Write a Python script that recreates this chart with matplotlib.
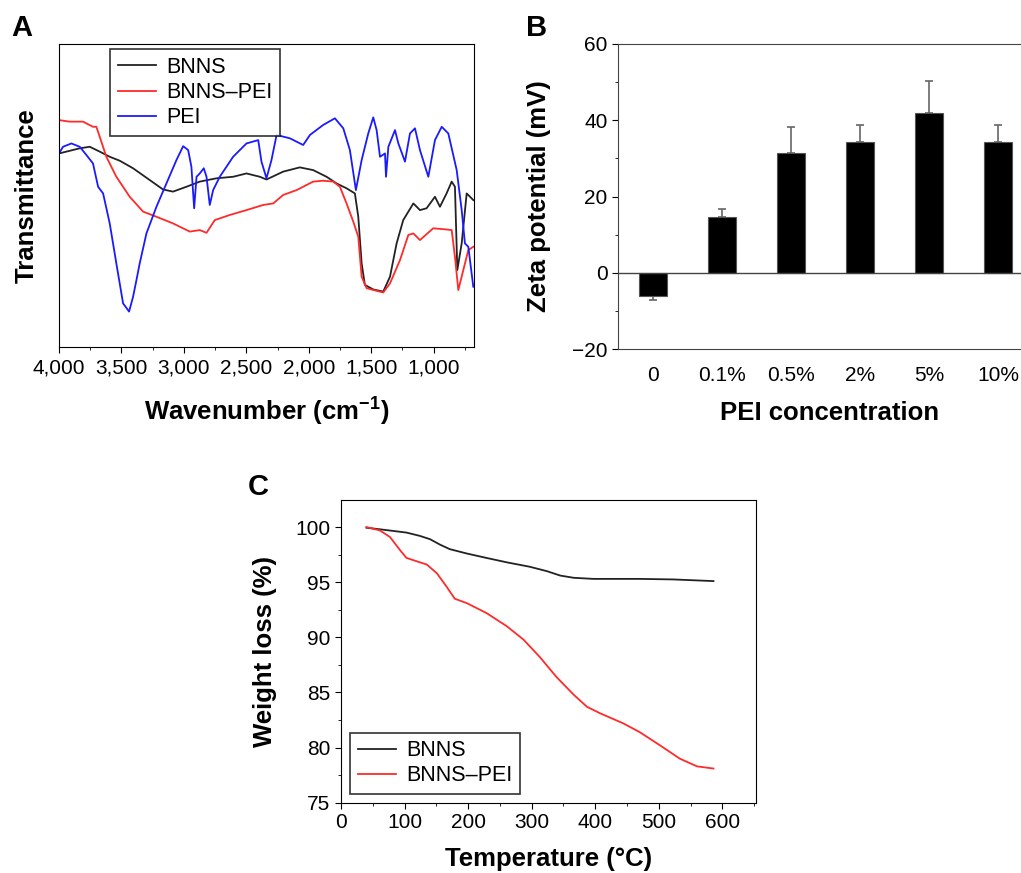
import numpy as np
import matplotlib
matplotlib.use("Agg")
import matplotlib.pyplot as plt
from matplotlib.ticker import MultipleLocator, FuncFormatter

plt.rcParams["font.family"] = ["Liberation Sans", "DejaVu Sans"]
plt.rcParams["mathtext.fontset"] = "custom"
plt.rcParams["mathtext.rm"] = "Liberation Sans"
plt.rcParams["mathtext.bf"] = "Liberation Sans:bold"

# ===== A: FTIR spectra =====
bnns_wn = [4000, 3941, 3834, 3754, 3674, 3594, 3514, 3407, 3273, 3167, 3087, 2980, 2873, 2739,
           2606, 2499, 2392, 2339, 2205, 2072, 1965, 1858, 1778, 1698, 1631, 1604, 1577, 1551,
           1484, 1404, 1350, 1297, 1244, 1163, 1110, 1057, 990, 950, 897, 856, 830, 811, 776,
           736, 709, 683]
bnns_t = [63.9, 64.5, 65.6, 66.1, 64.5, 62.8, 61.5, 59.0, 55.1, 52.0, 51.3, 52.9, 54.6, 55.7,
          56.2, 57.3, 56.2, 55.3, 57.9, 59.3, 58.4, 56.2, 54.0, 52.4, 50.7, 43.0, 27.6, 20.5,
          19.0, 18.3, 23.2, 34.2, 41.9, 47.4, 45.2, 45.8, 49.6, 46.3, 50.7, 54.6, 52.9, 25.4, 34.2,
          50.7, 49.6, 48.5]

pei_bnns_wn = [4000, 3915, 3808, 3728, 3701, 3674, 3621, 3541, 3434, 3327, 3220, 3087, 2953, 2873,
               2819, 2753, 2632, 2499, 2365, 2285, 2205, 2098, 1965, 1885, 1804, 1751, 1698, 1644,
               1604, 1577, 1537, 1404, 1350, 1270, 1203, 1163, 1110, 1004, 897, 856, 830, 803, 763,
               723, 683]
pei_bnns_t = [74.9, 74.4, 74.4, 72.7, 72.7, 69.4, 62.8, 56.2, 49.6, 44.7, 43.0, 40.8, 38.1, 38.6,
              37.7, 41.9, 43.6, 45.2, 46.9, 47.4, 50.2, 51.8, 54.6, 54.9, 54.6, 52.9, 47.4, 41.4,
              36.4, 23.2, 19.4, 18.0, 21.0, 28.7, 37.0, 37.5, 35.3, 39.2, 38.8, 38.6, 29.8, 18.8, 25.4,
              32.0, 33.1]

pei_wn = [4000, 3968, 3901, 3834, 3781, 3728, 3687, 3647, 3594, 3541, 3487, 3439, 3407, 3380,
          3354, 3300, 3220, 3140, 3060, 3006, 2966, 2940, 2918, 2899, 2873, 2841, 2819, 2793,
          2766, 2713, 2606, 2499, 2405, 2379, 2339, 2299, 2258, 2152, 2045, 1991, 1885, 1791,
          1724, 1671, 1623, 1577, 1524, 1484, 1457, 1430, 1390, 1382, 1363, 1310, 1283, 1230,
          1190, 1150, 1110, 1043, 990, 936, 883, 816, 776, 750, 723, 683]
pei_t = [63.9, 66.1, 67.2, 66.1, 63.4, 60.6, 52.9, 50.7, 40.8, 27.6, 14.4, 11.7, 16.6, 22.1,
         27.6, 37.5, 46.3, 54.0, 61.7, 66.3, 65.0, 59.5, 45.8, 56.2, 57.3, 59.0, 56.2, 46.9,
         51.8, 56.2, 62.8, 67.2, 68.3, 61.2, 55.7, 61.7, 70.0, 68.9, 66.7, 70.0, 73.3, 75.5,
         72.2, 65.0, 51.8, 61.7, 70.5, 75.8, 71.6, 62.8, 63.9, 56.2, 66.1, 71.6, 67.2, 61.2,
         70.5, 72.2, 65.0, 56.2, 68.3, 72.7, 70.5, 58.4, 45.2, 34.2, 33.1, 19.9]

# ===== B: zeta potential =====
pei_conc = ["0", "0.1%", "0.5%", "2%", "5%", "10%"]
zeta = [-6.0, 14.5, 31.5, 34.4, 41.8, 34.2]
zeta_err = [1.2, 2.2, 6.8, 4.3, 8.4, 4.5]

# ===== C: TGA =====
tga_bnns_temp = [40, 61, 103, 124, 140, 156, 171, 198, 229, 261, 297, 324, 345, 366, 397, 470, 523, 586]
tga_bnns_w = [99.94, 99.8, 99.5, 99.2, 98.9, 98.4, 98.0, 97.6, 97.2, 96.8, 96.4, 96.0, 95.6, 95.4,
              95.3, 95.3, 95.25, 95.1]
tga_pei_temp = [40, 61, 77, 93, 103, 119, 135, 151, 166, 179, 198, 229, 261, 287, 313, 339, 366,
                387, 408, 444, 470, 502, 533, 560, 586]
tga_pei_w = [100.0, 99.7, 99.1, 97.9, 97.2, 96.9, 96.6, 95.8, 94.6, 93.5, 93.1, 92.2, 91.0, 89.8,
             88.2, 86.4, 84.8, 83.7, 83.1, 82.2, 81.4, 80.2, 79.0, 78.3, 78.1]

BLACK = "#222222"
RED = "#ff2a2a"
BLUE = "#1a1aff"
TICK_FS = 15
LABEL_FS = 18.5
LEG_FS = 15.5

fig = plt.figure(figsize=(10.21, 8.73), dpi=100)


def framed_legend(ax, anchor, loc):
    leg = ax.legend(loc=loc, bbox_to_anchor=anchor, fontsize=LEG_FS, frameon=True,
                    fancybox=False, edgecolor="black", handlelength=1.8, borderpad=0.35,
                    labelspacing=0.2, handletextpad=0.45, borderaxespad=0)
    leg.get_frame().set_linewidth(1.2)
    return leg


# ----- A -----
axA = fig.add_axes([0.0578, 0.6025, 0.4065, 0.347])
axA.plot(bnns_wn, bnns_t, color=BLACK, lw=1.3, label="BNNS")
axA.plot(pei_bnns_wn, pei_bnns_t, color=RED, lw=1.3, label="BNNS–PEI")
axA.plot(pei_wn, pei_t, color=BLUE, lw=1.3, label="PEI")
axA.set_xlim(4000, 677)
axA.set_ylim(0, 100)
axA.set_yticks([])
axA.xaxis.set_major_locator(MultipleLocator(500))
axA.xaxis.set_minor_locator(MultipleLocator(250))
axA.xaxis.set_major_formatter(FuncFormatter(lambda v, p: f"{int(v):,}"))
axA.tick_params(axis="x", which="major", direction="out", length=4, pad=4, labelsize=TICK_FS)
axA.tick_params(axis="x", which="minor", direction="out", length=2.5)
axA.set_xlabel(r"Wavenumber (cm$^{\mathbf{-1}}$)", fontsize=LABEL_FS, fontweight="bold")
axA.xaxis.set_label_coords(0.5, -0.155)
axA.set_ylabel("Transmittance", fontsize=LABEL_FS, fontweight="bold")
axA.yaxis.set_label_coords(-0.048, 0.5)
framed_legend(axA, (0.123, 0.983), "upper left")
fig.text(0.011, 0.968, "A", fontsize=21, fontweight="bold", va="center")

# ----- B -----
axB = fig.add_axes([0.6053, 0.6002, 0.406, 0.3494])
x = np.arange(len(pei_conc))
low = [e if v < 0 else 0 for v, e in zip(zeta, zeta_err)]
up = [0 if v < 0 else e for v, e in zip(zeta, zeta_err)]
axB.errorbar(x, zeta, yerr=[low, up], fmt="none", ecolor="#666666", elinewidth=1.2,
             capsize=3, capthick=1.2, zorder=1)
axB.bar(x, zeta, width=0.4, color="black", edgecolor="#555555", linewidth=0.8, zorder=2)
axB.axhline(0, color="#444444", lw=1.0, zorder=3)
axB.set_xlim(-0.51, 5.5)
axB.set_ylim(-20, 60)
axB.set_xticks(x)
axB.set_xticklabels(pei_conc)
axB.yaxis.set_major_locator(MultipleLocator(20))
axB.yaxis.set_minor_locator(MultipleLocator(10))
axB.tick_params(axis="x", length=0, pad=12, labelsize=TICK_FS)
axB.tick_params(axis="y", which="major", direction="out", length=4, labelsize=TICK_FS)
axB.tick_params(axis="y", which="minor", direction="out", length=2.5)
for s in axB.spines.values():
    s.set_color("#444444")
axB.set_xlabel("PEI concentration", fontsize=LABEL_FS, fontweight="bold")
axB.xaxis.set_label_coords(0.51, -0.17)
axB.set_ylabel("Zeta potential (mV)", fontsize=LABEL_FS, fontweight="bold")
axB.yaxis.set_label_coords(-0.162, 0.5)
fig.text(0.515, 0.968, "B", fontsize=21, fontweight="bold", va="center")

# ----- C -----
axC = fig.add_axes([0.334, 0.0805, 0.4065, 0.3467])
axC.plot(tga_bnns_temp, tga_bnns_w, color=BLACK, lw=1.3, label="BNNS")
axC.plot(tga_pei_temp, tga_pei_w, color=RED, lw=1.3, label="BNNS–PEI")
axC.set_xlim(0, 653)
axC.set_ylim(75, 102.45)
axC.xaxis.set_major_locator(MultipleLocator(100))
axC.xaxis.set_minor_locator(MultipleLocator(50))
axC.yaxis.set_major_locator(MultipleLocator(5))
axC.yaxis.set_minor_locator(MultipleLocator(2.5))
axC.tick_params(which="major", direction="out", length=4, labelsize=TICK_FS)
axC.tick_params(which="minor", direction="out", length=2.5)
axC.set_xlabel("Temperature (°C)", fontsize=LABEL_FS, fontweight="bold")
axC.xaxis.set_label_coords(0.5, -0.146)
axC.set_ylabel("Weight loss (%)", fontsize=LABEL_FS, fontweight="bold")
axC.yaxis.set_label_coords(-0.154, 0.5)
framed_legend(axC, (0.022, 0.029), "lower left")
fig.text(0.243, 0.442, "C", fontsize=21, fontweight="bold", va="center")

fig.savefig("out.png", dpi=100)
